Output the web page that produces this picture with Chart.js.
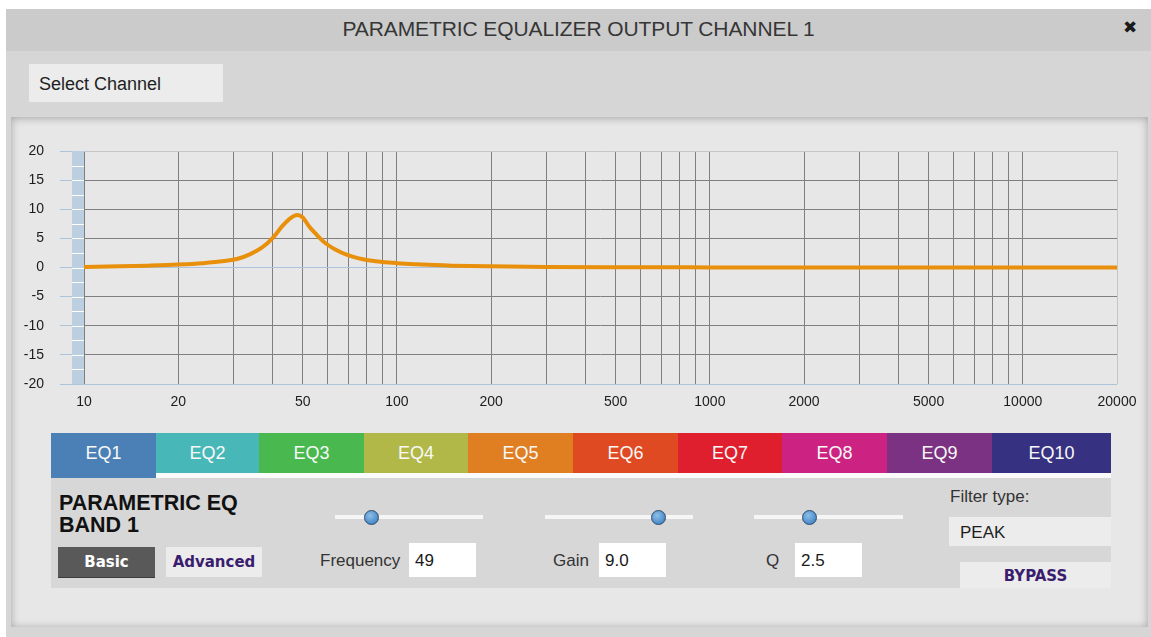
<!DOCTYPE html>
<html>
<head>
<meta charset="utf-8">
<title>Parametric EQ</title>
<script src="https://cdn.jsdelivr.net/npm/chart.js@4/dist/chart.umd.min.js"></script>
<style>
  html, body { margin:0; padding:0; background:#fff; width:1151px; height:637px; overflow:hidden;
    font-family:"Liberation Sans", Arial, sans-serif; }
  .abs { position:absolute; }
  #win { left:6px; top:9px; width:1145px; height:628px; background:#d6d6d6; }
  #titlebar { left:6px; top:9px; width:1145px; height:42px; background:#cbcbcb;
    text-align:center; line-height:40px; font-size:21px; color:#363636; letter-spacing:-0.1px; }
  #close { left:1123px; top:17px; font:bold 17px "DejaVu Sans", sans-serif; color:#1a1a1a; }
  #selch { left:29px; top:64px; width:194px; height:38px; background:#ececec;
    font-size:18px; line-height:41px; color:#1e1e1e; padding-left:10px; box-sizing:border-box; }
  #inner { left:11px; top:117px; width:1137px; height:510px; background:#e7e7e7;
    box-shadow: inset 0 1px 8px rgba(0,0,0,0.3); }
  #cv { left:0; top:0; }
  .tab { top:433px; height:40px; line-height:40px; text-align:center; color:#f8f8f8; font-size:18px; }
  #strip { left:156px; top:473px; width:955px; height:5px; background:#fbfbfb; }
  #band { left:51px; top:478px; width:1060px; height:110px; background:#d7d7d7; }
  #bandtitle { left:59px; top:492px; font-weight:bold; font-size:21.5px; line-height:22px; color:#111; }
  .btn { font:bold 15px "DejaVu Sans", sans-serif; height:30px; line-height:30px; text-align:center; }
  #basic { left:58px; top:547px; width:97px; background:#595959; color:#fff; box-shadow: 0 1px 0 #3c3c3c; }
  #adv { left:166px; top:547px; width:96px; background:#ececec; color:#3b1d6e; }
  .track { height:4px; background:#f5f5f5; top:515px; }
  .thumb { width:13px; height:13px; border-radius:50%; top:510px;
    background:radial-gradient(circle at 40% 35%, #8dbfe9, #4c8bc9 70%); border:1.5px solid #294a6b; }
  .lbl { font-size:17px; color:#333; line-height:36px; top:543px; }
  .inp { top:543px; height:34px; background:#fff; font-size:17px; line-height:36px; color:#1a1a1a;
    padding-left:6px; box-sizing:border-box; }
  #ftype { left:950px; top:487px; font-size:17px; color:#333; }
  #peak { left:949px; top:517px; width:162px; height:29px; background:#ececec; font-size:17px;
    line-height:32px; padding-left:11px; box-sizing:border-box; color:#1e1e1e; }
  #bypass { left:960px; top:562px; width:151px; height:26px; line-height:28px; background:#ececec; color:#3b1d6e; }
</style>
</head>
<body>
<div id="win" class="abs"></div>
<div id="titlebar" class="abs">PARAMETRIC EQUALIZER OUTPUT CHANNEL 1</div>
<div id="close" class="abs">✖</div>
<div id="selch" class="abs">Select Channel</div>
<div id="inner" class="abs"></div>

<div id="tabs"></div>
<div id="strip" class="abs"></div>
<div id="band" class="abs"></div>
<div id="bandtitle" class="abs">PARAMETRIC EQ<br>BAND 1</div>
<div id="basic" class="abs btn">Basic</div>
<div id="adv" class="abs btn">Advanced</div>

<div class="abs track" style="left:335px;width:148px"></div>
<div class="abs thumb" style="left:364px"></div>
<div class="abs track" style="left:545px;width:148px"></div>
<div class="abs thumb" style="left:651px"></div>
<div class="abs track" style="left:754px;width:149px"></div>
<div class="abs thumb" style="left:802px"></div>

<div class="abs lbl" style="left:320px">Frequency</div>
<div class="abs inp" style="left:409px;width:67px">49</div>
<div class="abs lbl" style="left:553px">Gain</div>
<div class="abs inp" style="left:599px;width:67px">9.0</div>
<div class="abs lbl" style="left:766px">Q</div>
<div class="abs inp" style="left:795px;width:67px">2.5</div>

<div id="ftype" class="abs">Filter type:</div>
<div id="peak" class="abs">PEAK</div>
<div id="bypass" class="abs btn">BYPASS</div>

<canvas id="cv" class="abs" width="1151" height="420"></canvas>

<script>
/* valores: resposta do EQ paramétrico (banda 1) */
const FREQ_HZ = [10, 13, 16, 20, 24, 28, 31, 34, 37, 40, 43, 45.5, 48, 50, 52.5, 55, 59, 64, 69, 75, 80, 90, 100, 120, 150, 200, 300, 500, 1000, 2000, 20000];
const GAIN_DB = [0.1, 0.2, 0.32, 0.5, 0.75, 1.1, 1.5, 2.3, 3.4, 5.0, 7.1, 8.4, 9.0, 8.6, 7.0, 5.8, 4.2, 3.0, 2.2, 1.6, 1.3, 0.95, 0.75, 0.5, 0.32, 0.2, 0.1, 0.05, 0.02, 0, 0];

const GRID_HZ = [10, 20, 30, 40, 50, 60, 70, 80, 90,
                 100, 200, 300, 400, 500, 600, 700, 800, 900,
                 1000, 2000, 3000, 4000, 5000, 6000, 7000, 8000, 9000,
                 10000, 20000];
const LABEL_HZ = [10, 20, 50, 100, 200, 500, 1000, 2000, 5000, 10000, 20000];
const DB_MIN = -20, DB_MAX = 20, DB_STEP = 5;

const EQ_TABS  = ['EQ1','EQ2','EQ3','EQ4','EQ5','EQ6','EQ7','EQ8','EQ9','EQ10'];
const TAB_COLORS = ['#4a80b6','#47b8b7','#48b84f','#b1b847','#e07f22','#e04a22','#e01f2e','#cc2382','#7b3282','#373181'];
const TAB_EDGES = [51, 156, 259, 364, 468, 573, 678, 782, 887, 992, 1111];

/* abas EQ1..EQ10 */
(function(){
  const box = document.getElementById('tabs');
  box.innerHTML = EQ_TABS.map((t, i) => {
    const l = TAB_EDGES[i], w = TAB_EDGES[i+1] - l;
    const h = i === 0 ? 45 : 40;
    return `<div class="abs tab" style="left:${l}px;width:${w}px;height:${h}px;background:${TAB_COLORS[i]}">${t}</div>`;
  }).join('');
})();

const GRID_DARK = '#7f7f7f', GRID_LIGHT = '#c6c6c6', AXIS_BLUE = '#adc3d9';

/* faixa azul do eixo Y com marcas brancas a cada 2,5 dB */
const axisStrip = {
  id: 'axisStrip',
  beforeDatasetsDraw(chart){
    const { ctx, chartArea, scales } = chart;
    const y = scales.y;
    ctx.save();
    ctx.fillStyle = '#bccfe0';
    ctx.fillRect(chartArea.left - 12, chartArea.top, 12, chartArea.bottom - chartArea.top);
    ctx.strokeStyle = '#ffffff';
    ctx.lineWidth = 1;
    for (let v = DB_MIN + 2.5; v < DB_MAX; v += 2.5){
      const py = Math.round(y.getPixelForValue(v)) + 0.5;
      ctx.beginPath(); ctx.moveTo(chartArea.left - 12, py); ctx.lineTo(chartArea.left, py); ctx.stroke();
    }
    ctx.restore();
  }
};

new Chart(document.getElementById('cv').getContext('2d'), {
  type: 'line',
  data: {
    datasets: [{
      data: FREQ_HZ.map((f, i) => ({ x: f, y: GAIN_DB[i] })),
      borderColor: '#e8900c',
      borderWidth: 4,
      pointRadius: 0,
      cubicInterpolationMode: 'monotone',
      fill: false
    }]
  },
  options: {
    responsive: false,
    animation: false,
    devicePixelRatio: 1,
    layout: { padding: { left: 0, top: 151, right: 34, bottom: 0 } },
    plugins: { legend: { display: false }, tooltip: { enabled: false } },
    scales: {
      x: {
        type: 'logarithmic', min: 10, max: 20000,
        afterBuildTicks: s => { s.ticks = GRID_HZ.map(v => ({ value: v })); },
        afterFit: s => { s.height = 36; },
        border: { display: false },
        grid: {
          drawTicks: false,
          color: c => (c.tick && c.tick.value === 20000) ? GRID_LIGHT : GRID_DARK,
          lineWidth: 1
        },
        ticks: {
          autoSkip: false, maxRotation: 0, minRotation: 0, padding: 10,
          color: '#1c1c1c', font: { family: '"Liberation Sans", Arial', size: 14 },
          callback: v => LABEL_HZ.includes(v) ? String(v) : ''
        }
      },
      y: {
        min: DB_MIN, max: DB_MAX,
        afterFit: s => { s.width = 84; },
        border: { display: false },
        grid: {
          drawTicks: true, tickLength: 24, tickColor: AXIS_BLUE,
          color: c => {
            const v = c.tick && c.tick.value;
            if (v === DB_MAX) return GRID_LIGHT;
            if (v === 0 || v === DB_MIN) return AXIS_BLUE;
            return GRID_DARK;
          }
        },
        ticks: {
          stepSize: DB_STEP, padding: 16,
          color: '#1c1c1c', font: { family: '"Liberation Sans", Arial', size: 14 }
        }
      }
    }
  },
  plugins: [axisStrip]
});
</script>
</body>
</html>
